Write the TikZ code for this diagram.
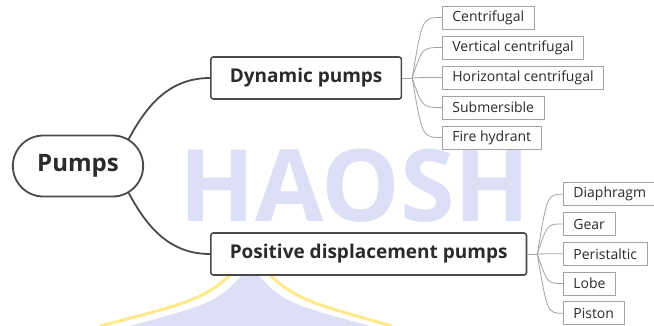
\documentclass[tikz,border=0pt]{standalone}
\usepackage{fontspec}
\setmainfont{Open Sans}
\usetikzlibrary{shapes.misc,calc}
\definecolor{boxline}{HTML}{4A4A4A}
\definecolor{leafline}{HTML}{A3A3A3}
\definecolor{txt}{HTML}{2B2B2B}
\definecolor{markcol}{HTML}{DCDFF5}
\definecolor{goldcol}{HTML}{FFE98A}
\tikzset{
  root/.style={rounded rectangle, draw=boxline, line width=1.8pt, fill=white,
    minimum width=137pt, minimum height=61pt, text=txt,
    font=\fontsize{24}{26}\selectfont\bfseries},
  branchbox/.style={rectangle, rounded corners=2.5pt, draw=boxline, line width=1.6pt,
    fill=white, minimum height=42pt, inner xsep=19pt, anchor=west, text=txt,
    font=\fontsize{19}{21}\selectfont\bfseries},
  leaf/.style={rectangle, draw=leafline, line width=0.8pt, fill=white,
    minimum height=23pt, inner xsep=10pt, anchor=west, text=txt,
    font=\fontsize{14}{16}\selectfont},
  bigline/.style={draw=boxline, line width=1.8pt},
  thinline/.style={draw=leafline, line width=0.8pt},
}
\begin{document}
\begin{tikzpicture}[x=1pt, y=-1pt]
    \useasboundingbox (0,0) rectangle (654,326);

    % Watermark
    \node[text=markcol, font=\fontsize{100}{100}\selectfont\bfseries, xscale=0.99] (mark) at (355,186) {HAOSH};
    \fill[markcol] (250,266) .. controls (218,302) .. (130,326) -- (370,326) .. controls (282,302) .. (250,266) -- cycle;
    \draw[goldcol, line width=3pt] (250,255) .. controls (208,298) .. (100,326);
    \draw[goldcol, line width=3pt] (250,255) .. controls (292,298) .. (392,326);

    % Draw the main nodes
    \node[root] (pumps) at (78,166) {Pumps};
    \node[branchbox] (dyn) at (210,78) {Dynamic pumps};
    \node[branchbox] (pd) at (210,254) {Positive displacement pumps};

    \draw[bigline] (pumps.28) to[out=62,in=180] (dyn.west);
    \draw[bigline] (pumps.-28) to[out=-62,in=180] (pd.west);

    % Add the leaves
    \path (dyn.east) ++(10,0) coordinate (dynfork);
    \path (pd.east) ++(10,0) coordinate (pdfork);
    \draw[thinline] (dyn.east) -- (dynfork);
    \draw[thinline] (pd.east) -- (pdfork);

    \foreach \lbl [count=\i] in {Centrifugal, Vertical centrifugal, Horizontal centrifugal, Submersible, Fire hydrant} {
        \node[leaf] (dyn\i) at (442,{-12.5+30*\i}) {\lbl};
        \draw[thinline] (dynfork) .. controls ($(dynfork |- dyn\i.west)+(10,0)$) .. (dyn\i.west);
    }

    \foreach \lbl [count=\i] in {Diaphragm, Gear, Peristaltic, Lobe, Piston} {
        \node[leaf] (pd\i) at (563,{164.5+29.75*\i}) {\lbl};
        \draw[thinline] (pdfork) .. controls ($(pdfork |- pd\i.west)+(10,0)$) .. (pd\i.west);
    }
\end{tikzpicture}
\end{document}
